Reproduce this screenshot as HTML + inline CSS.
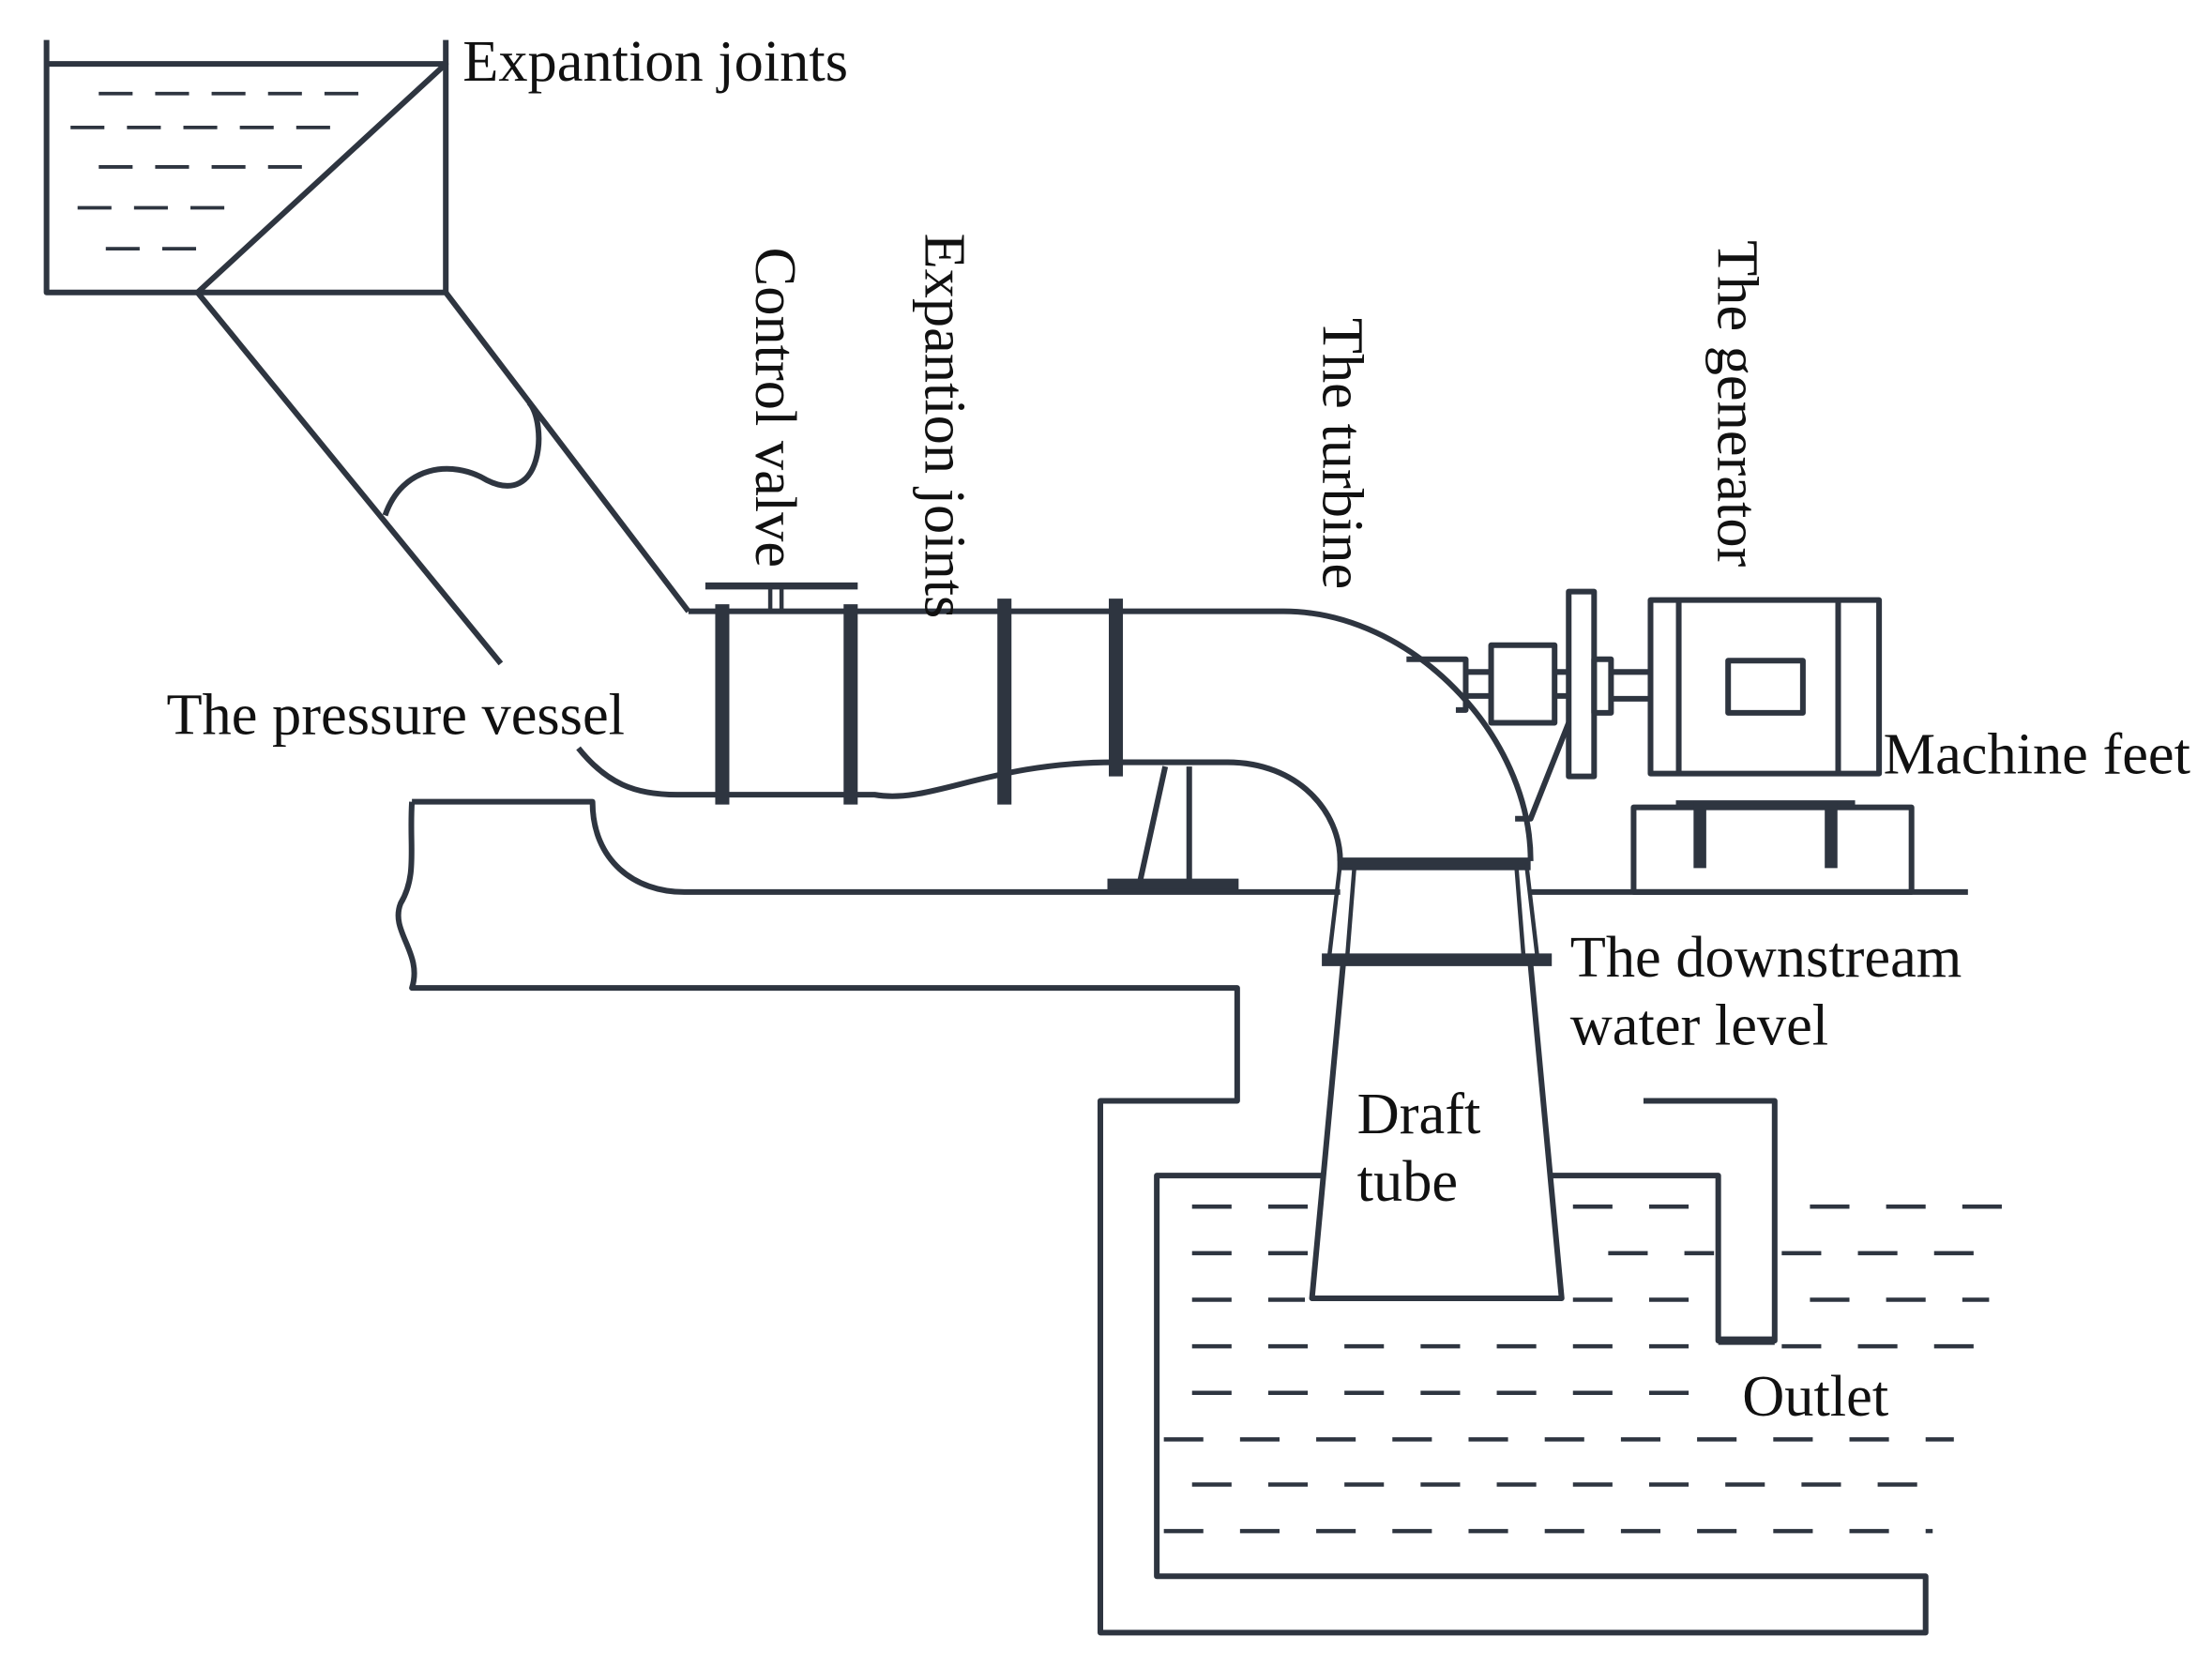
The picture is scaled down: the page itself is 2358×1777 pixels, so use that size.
<!DOCTYPE html>
<html><head><meta charset="utf-8"><style>
html,body{margin:0;padding:0;background:#fff;}
svg{display:block;}
text{font-family:"Liberation Serif",serif;fill:#111;font-size:41.5px;}
</style></head><body>
<svg width="2358" height="1777" viewBox="0 0 1568 1181" xmlns="http://www.w3.org/2000/svg">
<g fill="none" stroke="#2e3540" stroke-width="4" stroke-linejoin="round">
<path d="M33,28 V207 H316 V28"/>
<path d="M33,45 H316 L140,207"/>
<g stroke-width="2.5" stroke-dasharray="24,16">
<path d="M70,66 H270"/><path d="M50,90 H245"/><path d="M70,118 H215"/><path d="M55,147 H160"/><path d="M75,176 H140"/>
</g>
<path d="M140,207 L355,470"/>
<path d="M316,207 L488,433"/>
<path d="M273,365 C285,330 320,325 345,340 C385,360 388,300 375,285"/>
<path d="M488,433 H910 C1000,433 1085,520 1085,610"/>
<path d="M410,530 C430,555 450,563 480,563 H620 C660,570 700,540 790,540 H870 C920,540 950,575 950,610"/>
<path d="M500,415 H608" stroke-width="5"/>
<path d="M546,415 V433 M554,415 V433" stroke-width="3"/>
<g stroke-width="10">
<path d="M512,428 V570"/><path d="M603,428 V570"/><path d="M712,424 V570"/><path d="M791,424 V550"/>
</g>
<path d="M826,543 L808,625 M843,543 V625"/>
<path d="M785,627 H878" stroke-width="9"/>
<path d="M292,568 H420 C420,610 450,632 485,632 H950 M1085,632 H1395"/>
<path d="M292,568 C290,600 296,620 284,640 C276,660 300,675 292,700 H877 V780 H780 V1157 H1365 V1117 H820 V833 H938"/>
<path d="M1100,833 H1218 V950 H1258 V780 H1165"/>
<path d="M1218,950 H1258" stroke-width="6"/>
<path d="M948,612 H1085" stroke-width="9"/>
<path d="M950,612 L942,680 M1082,612 L1090,680 M960,615 L955,678 M1075,615 L1080,678" stroke-width="3"/>
<path d="M937,680 H1100" stroke-width="9"/>
<path d="M952,684 L930,920 H1107 L1085,684"/>
<!-- coupling -->
<path d="M997,467 H1039 V503 H1032"/>
<path d="M1039,476 H1057 M1039,493 H1057"/>
<rect x="1057" y="457" width="45" height="55"/>
<path d="M1102,476 H1112 M1102,493 H1112"/>
<rect x="1112" y="419" width="18" height="131"/>
<path d="M1112,512 L1085,580 H1074"/>
<rect x="1130" y="467" width="12" height="38"/>
<path d="M1142,476 H1170 M1142,495 H1170"/>
<rect x="1170" y="425" width="162" height="123"/>
<path d="M1190,425 V548 M1303,425 V548"/>
<rect x="1225" y="468" width="53" height="37"/>
<rect x="1158" y="572" width="197" height="60"/>
<path d="M1188,570 H1315" stroke-width="6"/>
<path d="M1205,568 V615 M1298,568 V615" stroke-width="9"/>
<g stroke-width="3" stroke-dasharray="28,26">
<path d="M845,855 H935 M1115,855 H1205 M1283,855 H1425"/>
<path d="M845,888 H935 M1140,888 H1215 M1263,888 H1400"/>
<path d="M845,921 H925 M1115,921 H1205 M1283,921 H1410"/>
<path d="M845,954 H1215 M1263,954 H1400"/>
<path d="M845,987 H1200"/>
<path d="M825,1020 H1385"/>
<path d="M845,1052 H1360"/>
<path d="M825,1085 H1370"/>
</g>
</g>
<text x="328" y="57">Expantion joints</text>
<text x="118" y="520">The pressure vessel</text>
<text x="1335" y="548">Machine feet</text>
<text x="1113" y="692">The downstream</text>
<text x="1113" y="740">water level</text>
<text x="962" y="803">Draft</text>
<text x="962" y="851">tube</text>
<text x="1235" y="1003">Outlet</text>
<text transform="translate(536,175) rotate(90)">Control valve</text>
<text transform="translate(656,165) rotate(90)">Expantion joints</text>
<text transform="translate(938,225) rotate(90)">The turbine</text>
<text transform="translate(1218,170) rotate(90)">The generator</text>
</svg>
</body></html>
